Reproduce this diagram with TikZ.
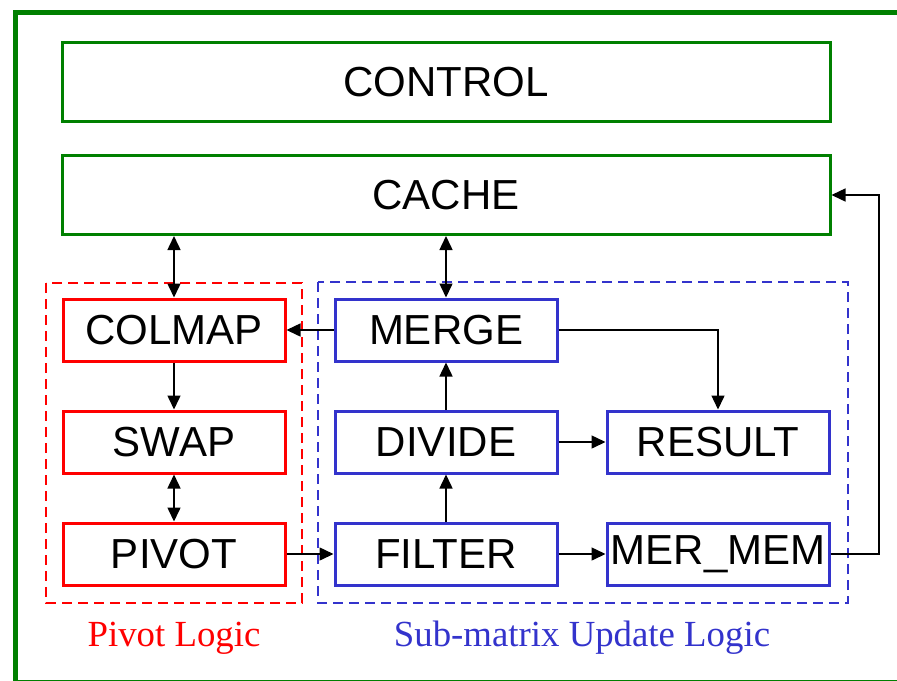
\documentclass[tikz,border=0pt]{standalone}
\usepackage{fontspec}
\setmainfont{Liberation Serif}
\setsansfont{Liberation Sans}
\usetikzlibrary{arrows.meta}
\definecolor{frameg}{RGB}{0,128,0}
\definecolor{logicb}{RGB}{51,51,204}
\definecolor{logicr}{RGB}{255,0,0}

\begin{document}
\begin{tikzpicture}[x=0.5pt, y=-0.5pt,
        unit/.style={draw, line width=1.5pt, inner sep=0pt, minimum width=111pt, minimum height=31pt,
            font=\sffamily\fontsize{21}{25}\selectfont},
        wide/.style={unit, draw=frameg, minimum width=384pt, minimum height=39.5pt},
        piv/.style={unit, draw=logicr},
        upd/.style={unit, draw=logicb},
        group/.style={dashed, dash pattern=on 5pt off 3pt, line width=1pt},
        link/.style={line width=0.75pt, -{Triangle[length=7pt, width=6.5pt]}},
        both/.style={line width=0.75pt, {Triangle[length=7pt, width=6.5pt]}-{Triangle[length=7pt, width=6.5pt]}}]
            \clip (0, 0) rectangle (897, 680);
            \useasboundingbox (0, 0) rectangle (897, 680);
            % outer frame, runs off the page
            \draw[frameg, line width=2.5pt] (15, 12) rectangle (905, 682);
            % groups
            \draw[group, logicr] (46, 283) rectangle (302, 603);
            \draw[group, logicb] (318, 282) rectangle (848, 603);
            \node[wide] (ctrl) at (446, 82) {CONTROL};
            \node[wide] (cache) at (446, 195) {CACHE};
            \node[piv] (colmap) at (174, 330) {COLMAP};
            \node[piv] (swap) at (174, 442) {SWAP};
            \node[piv] (pivot) at (174, 554) {PIVOT};
            \node[upd] (merge) at (446, 330) {MERGE};
            \node[upd] (divide) at (446, 442) {DIVIDE};
            \node[upd] (filter) at (446, 554) {FILTER};
            \node[upd] (result) at (718, 442) {RESULT};
            \node[upd] (mermem) at (718, 554) {MER\_MEM};
            \node[logicr, font=\fontsize{18.4}{22}\selectfont] (pl) at (174, 638) {Pivot Logic};
            \node[logicb, font=\fontsize{18.4}{22}\selectfont] (ul) at (582, 638) {Sub-matrix Update Logic};
            \coordinate (c1) at (718, 330);
            \coordinate (c2) at (879, 554);
            \coordinate (c3) at (879, 195);
            \draw[both] (cache.south -| colmap) to (colmap.north);
            \draw[both] (cache.south) to (merge.north);
            \draw[link] (colmap) to (swap);
            \draw[both] (swap) to (pivot);
            \draw[link] (merge) to (colmap);
            \draw[link] (pivot) to (filter);
            \draw[link] (filter) to (divide);
            \draw[link] (divide) to (merge);
            \draw[link] (divide) to (result);
            \draw[link] (filter) to (mermem);
            \draw[link] (merge.east) to (c1) to (result.north);
            \draw[link] (mermem.east) to (c2) to (c3) to (cache.east);
        \end{tikzpicture}
\end{document}
